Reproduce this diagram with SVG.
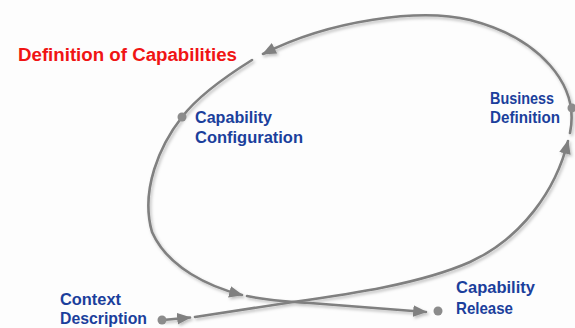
<svg xmlns="http://www.w3.org/2000/svg" width="575" height="328" viewBox="0 0 575 328">
<defs>
<style>
.bg{fill:#fdfdfd}
.ln{fill:none;stroke:#808080;stroke-width:2.6;stroke-linecap:round}
.dot{fill:#8c8c8c}
.lbl{font-family:"Liberation Sans",Arial,sans-serif;font-weight:bold;font-size:16.5px;fill:#1b3f9c}
.title{font-family:"Liberation Sans",Arial,sans-serif;font-weight:bold;font-size:18px;fill:#f01414}
</style>
<marker id="arr" viewBox="0 0 12 10" refX="11" refY="5" markerWidth="14" markerHeight="12" markerUnits="userSpaceOnUse" orient="auto">
<path d="M0,0 L12,5 L0,10 Z" fill="#808080"/>
</marker>
<filter id="sh" x="-10%" y="-10%" width="120%" height="120%">
<feDropShadow dx="1.5" dy="2" stdDeviation="1.5" flood-color="#000" flood-opacity="0.25"/>
</filter>
</defs>
<rect class="bg" x="0" y="0" width="575" height="328"/>
<g id="connectors" filter="url(#sh)">
<path class="ln" d="M163,320 L190,317.5" marker-end="url(#arr)"/>
<path class="ln" d="M195,317 L293,302 C350,294 420,284 470,262 C522,238 556,190 568,141" marker-end="url(#arr)"/>
<path class="ln" d="M570,133 C580,85 540,38 470,20 C420,8 330,20 263,54" marker-end="url(#arr)"/>
<path class="ln" d="M252,60 C220,80 195,100 182,117 C160,145 140,190 152,232 C168,268 210,287 242,295" marker-end="url(#arr)"/>
<path class="ln" d="M247,296 C270,301 290,302 310,303 L426,312" marker-end="url(#arr)"/>
</g>
<g id="title"><text class="title" x="18" y="61" textLength="219" lengthAdjust="spacingAndGlyphs">Definition of Capabilities</text></g>
<g id="capability-configuration">
<circle class="dot" cx="182" cy="117" r="4.5"/>
<text class="lbl" x="195" y="123" textLength="77" lengthAdjust="spacingAndGlyphs">Capability</text>
<text class="lbl" x="195" y="143" textLength="108" lengthAdjust="spacingAndGlyphs">Configuration</text>
</g>
<g id="business-definition">
<circle class="dot" cx="572" cy="108" r="4.5"/>
<text class="lbl" x="490" y="104" textLength="64" lengthAdjust="spacingAndGlyphs">Business</text>
<text class="lbl" x="490" y="123" textLength="70" lengthAdjust="spacingAndGlyphs">Definition</text>
</g>
<g id="context-description">
<circle class="dot" cx="162" cy="320" r="4.5"/>
<text class="lbl" x="60" y="305" textLength="61" lengthAdjust="spacingAndGlyphs">Context</text>
<text class="lbl" x="60" y="324" textLength="87" lengthAdjust="spacingAndGlyphs">Description</text>
</g>
<g id="capability-release">
<circle class="dot" cx="438" cy="311" r="4.5"/>
<text class="lbl" x="456" y="293" textLength="79" lengthAdjust="spacingAndGlyphs">Capability</text>
<text class="lbl" x="456" y="314" textLength="57" lengthAdjust="spacingAndGlyphs">Release</text>
</g>
</svg>
